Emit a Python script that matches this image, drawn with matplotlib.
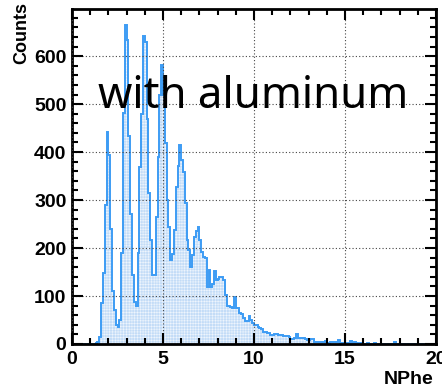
import numpy as np
import matplotlib
matplotlib.use("Agg")
import matplotlib.pyplot as plt
from matplotlib.ticker import MultipleLocator

# NPhe histogram, 200 bins of 0.1 between 0 and 20
x_min, x_max, n_bins = 0, 20, 200

counts_below = [1, 1, 1, 1, 1, 1, 1, 1, 1, 1,
                1, 1, 1, 2, 4]                       # 0.0 - 1.4
counts_peak1 = [15, 86, 148, 290, 441]               # 1.5 - 1.9
counts_peaks = [393, 240, 110, 70, 40, 36, 50, 189, 481, 665,   # 2.0 - 2.9
                634, 433, 272, 143, 88, 79, 189, 369, 480, 643,  # 3.0 - 3.9
                630, 470, 315, 216, 143, 143, 265, 390, 518, 581,  # 4.0 - 4.9
                518, 418, 300, 244, 175, 188, 237, 327, 372, 415,  # 5.0 - 5.9
                384, 359, 293, 216, 195, 160, 185, 223, 235, 244,  # 6.0 - 6.9
                216, 192, 182, 180, 119, 154, 119, 125, 153, 133]  # 7.0 - 7.9
counts_tail = [136, 140, 140, 133, 102, 80, 79, 78, 74, 97,     # 8.0 - 8.9
               76, 74, 64, 63, 55, 48, 47, 58, 50, 43,          # 9.0
               40, 39, 35, 34, 31, 26, 25, 22, 22, 19,          # 10.0
               19, 21, 20, 19, 18, 19, 17, 17, 16, 15,          # 11.0
               11, 11, 12, 21, 12, 12, 13, 12, 11, 9,           # 12.0
               9, 11, 10, 5, 4, 4, 5, 5, 4, 6,                  # 13.0
               3, 3, 5, 4, 5, 4, 8, 3, 2, 2,                    # 14.0
               2, 2, 3, 6, 2, 4, 2, 1, 2, 3,                    # 15.0
               1, 1, 2, 1, 1, 1, 3, 1, 1, 1,                    # 16.0
               1, 1, 0, 1, 1, 1, 1, 4, 1, 1,                    # 17.0
               1, 0, 1, 1, 1, 0, 1, 1, 1, 0,                    # 18.0
               1, 1, 0, 1, 0, 1, 1, 0, 1, 1]                    # 19.0

counts = np.array(counts_below + counts_peak1 + counts_peaks + counts_tail, dtype=float)
edges = np.linspace(x_min, x_max, n_bins + 1)

plt.rcParams['hatch.linewidth'] = 0.4
fig = plt.figure(figsize=(4.42, 3.90), dpi=100)
ax = fig.add_axes([72 / 442, 1 - 344 / 390, 364 / 442, 335 / 390])

# filled area with the fine dot pattern, then the outline
ax.stairs(counts, edges, fill=True, facecolor='#c3dcf7', edgecolor='#eef5fd',
          hatch='++++++', linewidth=0)
ax.stairs(counts, edges, color='#3d9cf4', linewidth=1.4, baseline=0)

ax.set_xlim(x_min, x_max)
ax.set_ylim(0, counts.max() * 1.05)

ax.xaxis.set_major_locator(MultipleLocator(5))
ax.xaxis.set_minor_locator(MultipleLocator(1))
ax.yaxis.set_major_locator(MultipleLocator(100))
ax.yaxis.set_minor_locator(MultipleLocator(20))
ax.tick_params(which='both', direction='in', top=True, right=True, width=1.5)
ax.tick_params(which='major', length=8, pad=4)
ax.tick_params(which='minor', length=4)
ax.tick_params(axis='x', pad=5)
for lab in ax.get_xticklabels() + ax.get_yticklabels():
    lab.set_fontfamily('Liberation Sans')
    lab.set_fontweight('bold')
    lab.set_fontsize(14)

ax.grid(True, which='major', color='#444444', linestyle=(0, (1, 2)), linewidth=0.8)
ax.set_axisbelow(False)
for s in ax.spines.values():
    s.set_linewidth(2.0)

fig.text(384 / 442, 1 - 379 / 390, 'NPhe', fontfamily='Liberation Sans',
         fontweight='bold', fontsize=14, ha='left', va='center')
fig.text(22 / 442, 1 - 2 / 390, 'Counts', fontfamily='Liberation Sans',
         fontweight='bold', fontsize=13, rotation=90, ha='center', va='top')

ax.text(1.43, 491, 'with aluminum', fontfamily='Noto Sans', fontsize=31.5,
        ha='left', va='baseline')

fig.savefig('out.png', dpi=100)
